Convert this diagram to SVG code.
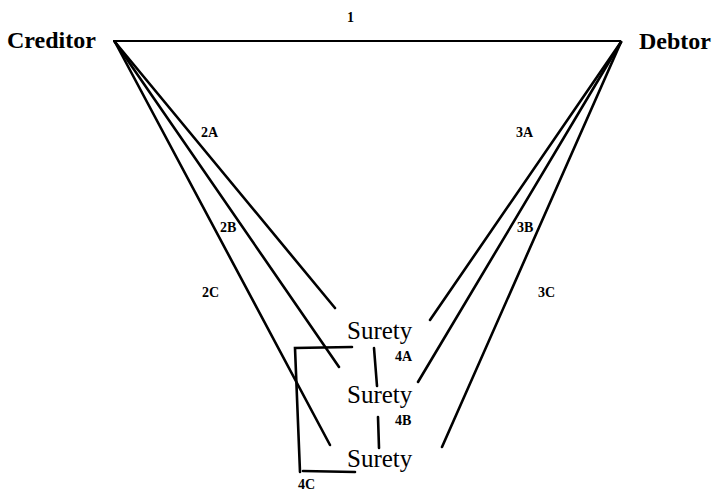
<svg xmlns="http://www.w3.org/2000/svg" width="714" height="491" viewBox="0 0 714 491">
<style>
.party{font-family:"Liberation Serif","Times New Roman",serif;font-size:24px;font-weight:bold;fill:#000}
.surety{font-family:"Liberation Serif","Times New Roman",serif;font-size:25px;fill:#000}
.lbl{font-family:"Liberation Serif","Times New Roman",serif;font-size:14px;font-weight:bold;fill:#000}
.ln{stroke:#000;stroke-width:2.6;fill:none;stroke-linecap:round}
.thin{stroke:#000;stroke-width:2;fill:none}
</style>
<rect width="714" height="491" fill="#fff"/>
<g id="creditor"><text class="party" x="7" y="48">Creditor</text></g>
<g id="debtor"><text class="party" x="639" y="49">Debtor</text></g>
<g id="surety-a"><text class="surety" x="347" y="339">Surety</text></g>
<g id="surety-b"><text class="surety" x="347" y="403">Surety</text></g>
<g id="surety-c"><text class="surety" x="347" y="467">Surety</text></g>
<g id="connectors">
<line class="thin" x1="113" y1="41" x2="621" y2="41"/>
<line class="ln" x1="115" y1="42" x2="335" y2="308"/>
<line class="ln" x1="115" y1="42" x2="339" y2="367"/>
<line class="ln" x1="115" y1="42" x2="330" y2="445"/>
<line class="ln" x1="621" y1="42" x2="430" y2="320"/>
<line class="ln" x1="621" y1="42" x2="418" y2="382"/>
<line class="ln" x1="621" y1="42" x2="442" y2="447"/>
<line class="ln" x1="374" y1="348" x2="377" y2="386"/>
<line class="ln" x1="378" y1="417" x2="379" y2="448"/>
<polyline class="ln" points="352,347 295,348 300,472"/>
<line class="ln" x1="303" y1="471" x2="355" y2="472"/>
</g>
<g id="labels">
<text class="lbl" x="347" y="22">1</text>
<text class="lbl" x="201" y="137">2A</text>
<text class="lbl" x="220" y="232">2B</text>
<text class="lbl" x="202" y="297">2C</text>
<text class="lbl" x="516" y="137">3A</text>
<text class="lbl" x="517" y="232">3B</text>
<text class="lbl" x="538" y="297">3C</text>
<text class="lbl" x="395" y="361">4A</text>
<text class="lbl" x="395" y="425">4B</text>
<text class="lbl" x="298" y="489">4C</text>
</g>
</svg>
